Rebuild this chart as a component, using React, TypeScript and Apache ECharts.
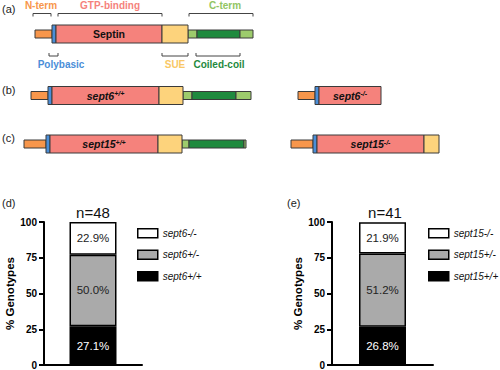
import React, { useEffect, useRef } from "react";
import * as echarts from "echarts";

const FONT = "'Liberation Sans', Arial, sans-serif";

// ---------- domain diagram data (diagram units) ----------
const kindColors = ["#F7964B", "#4A8ED8", "#F5827C", "#FDD37C", "#9DCB6C", "#1F8A3E"];
const kindThick = [false, true, true, true, false, false];

const fullKinds = [0, 1, 2, 3, 4, 5, 4];
const septinBounds = [35, 52, 56, 162, 188, 197, 240, 253];
const sept6WTBounds = [31, 48, 52, 159, 183, 192, 236, 251];
const sept6KOBounds = [298, 315, 319, 381];
const sept6KOKinds = [0, 1, 2];
const sept15WTBounds = [24, 46, 50, 158, 182, 189, 244, 246];
const sept15KOBounds = [291, 313, 317, 424, 439];
const sept15KOKinds = [0, 1, 2, 3];
const rowPositions = [34, 95.5, 144];
const constructNames = ["Septin", "sept6", "sept6", "sept15", "sept15"];
const constructSups = ["", "+/+", "-/-", "+/+", "-/-"];

const topBrackets = [[33, 51, 41], [58, 162, 110], [189, 253, 225]];
const topBracketLabels = ["N-term", "GTP-binding", "C-term"];
const topBracketColors = ["#F7964B", "#F5827C", "#92C563"];
const bottomBrackets = [[49, 58, 61], [162, 188, 175], [196, 240, 219]];
const bottomBracketLabels = ["Polybasic", "SUE", "Coiled-coil"];
const bottomBracketColors = ["#4A8ED8", "#F9C866", "#1F8A3E"];
const bracketRows = [13.5, 56];
const bracketLabelRows = [5, 64];

// ---------- genotype data ----------
const genotypeD = ["sept6+/+", "sept6+/-", "sept6-/-"];
const percentD = [27.1, 50.0, 22.9];
const nD = 48;
const genotypeE = ["sept15+/+", "sept15+/-", "sept15-/-"];
const percentE = [26.8, 51.2, 21.9];
const nE = 41;
const genotypeColors = ["#000000", "#AAAAAA", "#FFFFFF"];
const percentLabelColors = ["#FFFFFF", "#222222", "#222222"];

function segs(bounds: number[], kinds: number[], row: number) {
  return kinds.map((k, i) => [bounds[i], bounds[i + 1], row, k]);
}

export default function App() {
  const ref = useRef<HTMLDivElement>(null);
  useEffect(() => {
    if (!ref.current) return;
    const chart = echarts.init(ref.current, null, { renderer: "svg" });

    const constructs = [
      [septinBounds, fullKinds, rowPositions[0]],
      [sept6WTBounds, fullKinds, rowPositions[1]],
      [sept6KOBounds, sept6KOKinds, rowPositions[1]],
      [sept15WTBounds, fullKinds, rowPositions[2]],
      [sept15KOBounds, sept15KOKinds, rowPositions[2]],
    ] as [number[], number[], number][];

    const segData: number[][] = [];
    constructs.forEach(([b, k, r]) => segs(b, k, r).forEach((s) => segData.push(s)));
    const labelData = constructs.map(([b, , r], i) => [(b[2] + b[3]) / 2, r, i]);
    const bracketData: number[][] = [];
    topBrackets.forEach((b, i) => bracketData.push([b[0], b[1], b[2], 0, i]));
    bottomBrackets.forEach((b, i) => bracketData.push([b[0], b[1], b[2], 1, i]));

    const makeBars = (names: string[], vals: number[], idx: number, stack: string) =>
      names.map((nm, i) => ({
        name: nm,
        type: "bar",
        stack,
        xAxisIndex: idx,
        yAxisIndex: idx,
        barWidth: 47,
        data: [vals[i]],
        itemStyle: { color: genotypeColors[i], borderColor: "#000", borderWidth: 1.5 },
        label: {
          show: true,
          position: "inside",
          formatter: (p: any) => p.value.toFixed(1) + "%",
          color: percentLabelColors[i],
          textBorderWidth: 0,
          fontSize: 11.5,
          fontFamily: FONT,
        },
      }));

    const yAxisBase = (nameGap: number) => ({
      type: "value",
      min: 0,
      max: 100,
      interval: 25,
      name: "% Genotypes",
      nameLocation: "middle",
      nameGap,
      nameTextStyle: { fontWeight: "bold", fontSize: 11.5, color: "#000", fontFamily: FONT },
      axisLine: { show: true, lineStyle: { color: "#000", width: 2 } },
      axisTick: { show: true, length: 5, lineStyle: { color: "#000", width: 2 } },
      axisLabel: { fontWeight: "bold", fontSize: 10, color: "#000", margin: 7, fontFamily: FONT },
      splitLine: { show: false },
    });
    const xAxisBase = (gi: number) => ({
      type: "category",
      gridIndex: gi,
      data: [""],
      axisLine: { show: true, lineStyle: { color: "#000", width: 2 } },
      axisTick: { show: false },
      axisLabel: { show: false },
    });
    const legendBase = (names: string[], left: number) => ({
      orient: "vertical",
      left,
      top: 223,
      data: [names[2], names[1], names[0]],
      selectedMode: false,
      itemWidth: 20,
      itemHeight: 9,
      itemGap: 11,
      icon: "rect",
      itemStyle: { borderColor: "#000", borderWidth: 1.5 },
      textStyle: { fontStyle: "italic", fontSize: 10, color: "#111", fontFamily: FONT },
    });

    const option: any = {
      animation: false,
      textStyle: { fontFamily: FONT },
      grid: [
        { left: 44, top: 222, width: 98, height: 143 },
        { left: 332, top: 222, width: 101, height: 143 },
        { left: 0, top: 0, width: 500, height: 170 },
      ],
      xAxis: [
        xAxisBase(0),
        xAxisBase(1),
        { type: "value", gridIndex: 2, min: 0, max: 500, show: false },
      ],
      yAxis: [
        { ...yAxisBase(27), gridIndex: 0 },
        { ...yAxisBase(24), gridIndex: 1 },
        { type: "value", gridIndex: 2, min: 0, max: 170, inverse: true, show: false },
      ],
      legend: [legendBase(genotypeD, 132), legendBase(genotypeE, 423)],
      series: [
        ...makeBars(genotypeD, percentD, 0, "d"),
        ...makeBars(genotypeE, percentE, 1, "e"),
        {
          type: "custom",
          xAxisIndex: 2,
          yAxisIndex: 2,
          silent: true,
          clip: false,
          data: segData,
          encode: { x: [0, 1], y: 2 },
          renderItem: (params: any, api: any) => {
            const k = api.value(3);
            const p1 = api.coord([api.value(0), api.value(2)]);
            const p2 = api.coord([api.value(1), api.value(2)]);
            const h = kindThick[k] ? 18 : 8;
            return {
              type: "rect",
              z2: kindThick[k] ? 2 : 1,
              shape: { x: p1[0], y: p1[1] - h / 2, width: p2[0] - p1[0], height: h },
              style: { fill: kindColors[k], stroke: "#3a3a3a", lineWidth: 1 },
            };
          },
        },
        {
          type: "custom",
          xAxisIndex: 2,
          yAxisIndex: 2,
          silent: true,
          clip: false,
          z: 5,
          data: labelData,
          encode: { x: 0, y: 1 },
          renderItem: (params: any, api: any) => {
            const i = api.value(2);
            const p = api.coord([api.value(0), api.value(1)]);
            const sup = constructSups[i];
            return {
              type: "text",
              x: p[0],
              y: p[1],
              z2: 10,
              style: {
                text: sup ? `{m|${constructNames[i]}}{s|${sup}}` : `{n|${constructNames[i]}}`,
                align: "center",
                verticalAlign: "middle",
                fill: "#111",
                rich: {
                  n: { fontSize: 10.5, fontWeight: "bold", fontFamily: FONT, fill: "#111" },
                  m: { fontSize: 10.5, fontWeight: "bold", fontStyle: "italic", fontFamily: FONT, fill: "#111" },
                  s: { fontSize: 7, fontWeight: "bold", fontStyle: "italic", fontFamily: FONT, fill: "#111", verticalAlign: "top" },
                },
              },
            };
          },
        },
        {
          type: "custom",
          xAxisIndex: 2,
          yAxisIndex: 2,
          silent: true,
          clip: false,
          data: bracketData,
          encode: { x: [0, 1], y: 3 },
          renderItem: (params: any, api: any) => {
            const lvl = api.value(3);
            const i = api.value(4);
            const yRow = bracketRows[lvl];
            const a = api.coord([api.value(0), yRow]);
            const b = api.coord([api.value(1), yRow]);
            const c = api.coord([api.value(2), bracketLabelRows[lvl]]);
            const d = lvl === 0 ? 3 : -3;
            return {
              type: "group",
              children: [
                {
                  type: "polyline",
                  shape: { points: [[a[0], a[1] + d], a, b, [b[0], b[1] + d]] },
                  style: { stroke: "#444", lineWidth: 1, fill: "none" },
                },
                {
                  type: "text",
                  x: c[0],
                  y: c[1],
                  style: {
                    text: lvl === 0 ? topBracketLabels[i] : bottomBracketLabels[i],
                    fill: lvl === 0 ? topBracketColors[i] : bottomBracketColors[i],
                    fontSize: 10,
                    fontWeight: "bold",
                    fontFamily: FONT,
                    align: "center",
                    verticalAlign: "middle",
                  },
                },
              ],
            };
          },
        },
      ],
      graphic: [
        { type: "text", left: 2, top: 3, style: { text: "(a)", fontSize: 11, fill: "#222", fontFamily: FONT } },
        { type: "text", left: 2, top: 84, style: { text: "(b)", fontSize: 11, fill: "#222", fontFamily: FONT } },
        { type: "text", left: 2, top: 132, style: { text: "(c)", fontSize: 11, fill: "#222", fontFamily: FONT } },
        { type: "text", left: 2, top: 197, style: { text: "(d)", fontSize: 11, fill: "#222", fontFamily: FONT } },
        { type: "text", left: 287, top: 197, style: { text: "(e)", fontSize: 11, fill: "#222", fontFamily: FONT } },
        { type: "text", x: 93, y: 212, style: { text: `n=${nD}`, fontSize: 15, fill: "#111", fontFamily: FONT, align: "center", verticalAlign: "middle" } },
        { type: "text", x: 385, y: 212, style: { text: `n=${nE}`, fontSize: 15, fill: "#111", fontFamily: FONT, align: "center", verticalAlign: "middle" } },
      ],
    };
    chart.setOption(option);
    return () => chart.dispose();
  }, []);
  return (
    <div
      ref={ref}
      style={{ position: "fixed", left: 0, top: 0, width: 500, height: 370, background: "#fff" }}
    />
  );
}
